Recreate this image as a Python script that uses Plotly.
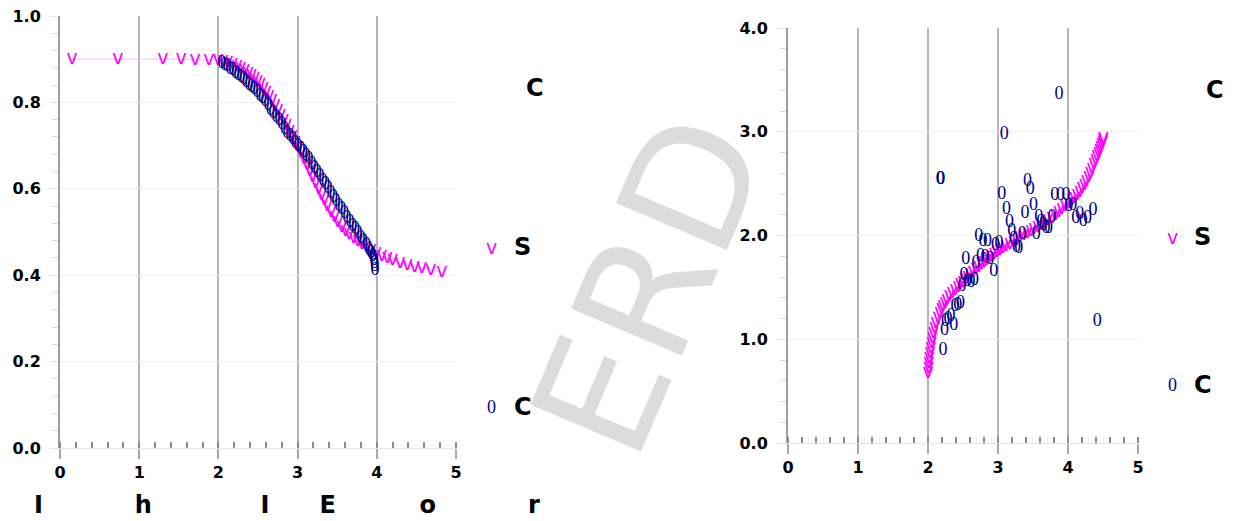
import plotly.graph_objects as go

# ---------------- data ----------------
# left panel: fitted curve ("v") and observed points ("0")
left_fit_x = [0.152, 0.732, 1.30, 1.528, 1.705, 1.881, 1.995, 2.064, 2.121, 2.181, 2.235, 2.285,
              2.332, 2.379, 2.419, 2.456, 2.494, 2.530, 2.567, 2.601, 2.639, 2.677, 2.715, 2.750,
              2.787, 2.823, 2.860, 2.898, 2.934, 2.971, 3.005, 3.043, 3.081, 3.119, 3.154, 3.191,
              3.227, 3.264, 3.302, 3.338, 3.375, 3.422, 3.466, 3.510, 3.558, 3.605, 3.649, 3.706,
              3.760, 3.813, 3.870, 3.927, 3.995, 4.063, 4.133, 4.201, 4.293, 4.385, 4.476, 4.568,
              4.684, 4.821]
left_fit_y = [0.900, 0.900, 0.900, 0.900, 0.898, 0.898, 0.898, 0.896, 0.892, 0.889, 0.884, 0.880,
              0.874, 0.868, 0.862, 0.856, 0.850, 0.841, 0.833, 0.824, 0.815, 0.804, 0.794, 0.782,
              0.771, 0.759, 0.747, 0.734, 0.721, 0.708, 0.696, 0.682, 0.668, 0.654, 0.640, 0.626,
              0.612, 0.598, 0.586, 0.573, 0.560, 0.546, 0.534, 0.522, 0.512, 0.502, 0.494, 0.485,
              0.478, 0.471, 0.464, 0.458, 0.451, 0.444, 0.439, 0.434, 0.428, 0.424, 0.419, 0.416,
              0.412, 0.407]
left_obs_x = [2.043, 2.077, 2.109, 2.146, 2.181, 2.215, 2.247, 2.285, 2.318, 2.352, 2.386, 2.419,
              2.449, 2.487, 2.525, 2.557, 2.588, 2.626, 2.658, 2.689, 2.727, 2.765, 2.801, 2.835,
              2.866, 2.904, 2.938, 2.971, 3.005, 3.043, 3.076, 3.110, 3.144, 3.182, 3.213, 3.249,
              3.283, 3.321, 3.352, 3.384, 3.422, 3.453, 3.485, 3.523, 3.558, 3.592, 3.624, 3.662,
              3.696, 3.731, 3.763, 3.801, 3.833, 3.870, 3.902, 3.927, 3.948, 3.965, 3.971, 3.975,
              3.977]
left_obs_y = [0.889, 0.885, 0.882, 0.877, 0.873, 0.868, 0.863, 0.858, 0.852, 0.846, 0.840, 0.834,
              0.829, 0.822, 0.814, 0.808, 0.801, 0.792, 0.782, 0.775, 0.766, 0.757, 0.748, 0.738,
              0.729, 0.721, 0.713, 0.705, 0.697, 0.690, 0.683, 0.675, 0.667, 0.657, 0.648, 0.638,
              0.628, 0.618, 0.609, 0.600, 0.590, 0.580, 0.571, 0.560, 0.551, 0.542, 0.532, 0.522,
              0.513, 0.505, 0.497, 0.486, 0.477, 0.468, 0.458, 0.450, 0.443, 0.435, 0.427, 0.419,
              0.412]

# right panel: reference curve ("v") and sample points ("0")
right_ref_x = [2.003, 2.009, 2.014, 2.021, 2.029, 2.040, 2.050, 2.063, 2.077, 2.094, 2.114, 2.143,
               2.171, 2.193, 2.214, 2.243, 2.271, 2.307, 2.343, 2.386, 2.429, 2.464, 2.500, 2.536,
               2.571, 2.607, 2.643, 2.686, 2.724, 2.764, 2.800, 2.836, 2.871, 2.907, 2.943, 2.986,
               3.024, 3.071, 3.114, 3.171, 3.223, 3.271, 3.314, 3.371, 3.421, 3.471, 3.514, 3.571,
               3.621, 3.671, 3.714, 3.771, 3.820, 3.867, 3.914, 3.964, 4.014, 4.057, 4.093, 4.129,
               4.169, 4.200, 4.236, 4.264, 4.293, 4.319, 4.343, 4.371, 4.393, 4.414, 4.436, 4.453,
               4.467, 4.481, 4.493, 4.500, 4.507]
right_ref_y = [0.675, 0.723, 0.771, 0.819, 0.867, 0.916, 0.964, 1.012, 1.060, 1.108, 1.157, 1.205,
               1.253, 1.287, 1.320, 1.349, 1.378, 1.412, 1.446, 1.475, 1.504, 1.528, 1.552, 1.576,
               1.600, 1.624, 1.648, 1.672, 1.696, 1.719, 1.740, 1.762, 1.783, 1.802, 1.822, 1.841,
               1.860, 1.880, 1.899, 1.918, 1.937, 1.959, 1.981, 2.002, 2.024, 2.043, 2.063, 2.082,
               2.101, 2.120, 2.145, 2.169, 2.198, 2.224, 2.251, 2.281, 2.313, 2.337, 2.361, 2.390,
               2.419, 2.453, 2.487, 2.525, 2.564, 2.602, 2.641, 2.684, 2.728, 2.761, 2.795, 2.824,
               2.853, 2.877, 2.901, 2.920, 2.940]
right_obs_x = [2.177, 2.177, 2.177, 3.870, 3.089, 3.053, 3.123, 3.163, 3.197, 3.223, 3.263, 3.297,
               3.347, 3.386, 3.421, 3.461, 3.506, 3.546, 3.581, 3.611, 3.646, 3.686, 3.720, 3.770,
               3.810, 3.894, 3.970, 4.009, 4.069, 4.109, 4.169, 4.219, 4.279, 4.357, 4.417, 2.724,
               2.786, 2.850, 2.964, 3.014, 2.541, 2.686, 2.750, 2.814, 2.886, 2.939, 2.514, 2.566,
               2.614, 2.666, 2.486, 2.466, 2.426, 2.386, 2.327, 2.286, 2.251, 2.367, 2.237, 2.213]
right_obs_y = [2.535, 2.535, 2.535, 3.361, 2.978, 2.397, 2.246, 2.123, 2.037, 1.963, 1.886, 1.877,
               2.012, 2.214, 2.525, 2.439, 2.294, 2.012, 2.175, 2.123, 2.092, 2.069, 2.069, 2.175,
               2.390, 2.390, 2.390, 2.278, 2.294, 2.166, 2.198, 2.133, 2.166, 2.239, 1.169, 1.988,
               1.940, 1.940, 1.908, 1.925, 1.764, 1.732, 1.802, 1.790, 1.771, 1.651, 1.619, 1.555,
               1.545, 1.571, 1.513, 1.347, 1.330, 1.320, 1.224, 1.186, 1.169, 1.137, 1.080, 0.896]

# ticks and texts
left_xticks = [0, 1, 2, 3, 4, 5]
left_xlabels = ["0", "1", "2", "3", "4", "5"]
left_yticks = [0, 0.2, 0.4, 0.6, 0.8, 1.0]
left_ylabels = ["0.0", "0.2", "0.4", "0.6", "0.8", "1.0"]
right_xticks = [0, 1, 2, 3, 4, 5]
right_xlabels = ["0", "1", "2", "3", "4", "5"]
right_yticks = [0, 1, 2, 3, 4]
right_ylabels = ["0.0", "1.0", "2.0", "3.0", "4.0"]
glyph_fit = "v"
glyph_obs = "0"
legend_title = "C"
legend_labels = ["S", "C"]
NB = "\u00a0"
left_xtitle = "I" + NB * 11 + "h" + NB * 13 + "I" + NB * 6 + "E" + NB * 10 + "o" + NB * 11 + "r"
watermark = "ERD"

# ---------------- styles ----------------
MAGENTA = "#ff00ff"
NAVY = "#000080"
GLYPH_V = dict(color=MAGENTA, size=19, family="DejaVu Sans")
GLYPH_O = dict(color=NAVY, size=18, family="Liberation Serif")
TICKFONT = dict(family="DejaVu Sans", size=16, color="black", weight="bold")
BIGFONT = dict(family="DejaVu Sans", size=24, color="black", weight="bold")

fig = go.Figure()

fig.add_trace(go.Scatter(x=left_fit_x, y=left_fit_y, mode="lines+text",
                         text=[glyph_fit] * len(left_fit_x), textposition="middle center",
                         textfont=GLYPH_V, line=dict(color="#ffb8ff", width=1),
                         xaxis="x", yaxis="y", cliponaxis=False, hoverinfo="skip"))
fig.add_trace(go.Scatter(x=left_obs_x, y=left_obs_y, mode="text",
                         text=[glyph_obs] * len(left_obs_x), textposition="middle center",
                         textfont=GLYPH_O, xaxis="x", yaxis="y", cliponaxis=False, hoverinfo="skip"))
fig.add_trace(go.Scatter(x=right_ref_x, y=right_ref_y, mode="lines+text",
                         text=[glyph_fit] * len(right_ref_x), textposition="middle center",
                         textfont=GLYPH_V, line=dict(color="#ffb8ff", width=1),
                         xaxis="x2", yaxis="y2", cliponaxis=False, hoverinfo="skip"))
fig.add_trace(go.Scatter(x=right_obs_x, y=right_obs_y, mode="text",
                         text=[glyph_obs] * len(right_obs_x), textposition="middle center",
                         textfont=GLYPH_O, xaxis="x2", yaxis="y2", cliponaxis=False, hoverinfo="skip"))

W, H = 1248, 521
OFF = 8  # the page body adds an 8px margin around the figure


def px(xs):
    return (xs - OFF) / W


def py(ys):
    return 1 - (ys - OFF) / H


def xaxis_style(domain, rng, tickvals, ticktext, anchor):
    return dict(domain=domain, range=rng, anchor=anchor, tickvals=tickvals, ticktext=ticktext,
                automargin=False, ticklabeloverflow="allow",
                showgrid=True, gridcolor="#b5b5b5", gridwidth=2, zeroline=False,
                showline=True, linecolor="#e4e4e4", linewidth=1,
                ticks="outside", ticklen=10, tickwidth=2, tickcolor="#a8a8a8",
                tickfont=TICKFONT,
                minor=dict(ticks="inside", ticklen=6, tickwidth=1.5, tickcolor="#8c8c8c",
                           dtick=0.2, showgrid=False))


def yaxis_style(domain, rng, tickvals, ticktext, anchor, minor_dtick, standoff):
    return dict(domain=domain, range=rng, anchor=anchor, tickvals=tickvals, ticktext=ticktext,
                automargin=False, ticklabeloverflow="allow",
                showgrid=True, gridcolor="#efefef", gridwidth=1, zeroline=False,
                showline=True, linecolor="#9c9c9c", linewidth=2,
                ticks="outside", ticklen=8, tickwidth=1, tickcolor="#e2e2e2",
                tickfont=TICKFONT, ticklabelstandoff=standoff,
                minor=dict(ticks="outside", ticklen=6, tickwidth=1, tickcolor="#dadada",
                           dtick=minor_dtick, showgrid=False))


fig.update_layout(
    width=W, height=H, margin=dict(l=0, r=0, t=0, b=0, autoexpand=False),
    paper_bgcolor="white", plot_bgcolor="white", showlegend=False, hovermode=False,
    xaxis=xaxis_style([px(60), px(456)], [0, 5], left_xticks, left_xlabels, "y"),
    yaxis=yaxis_style([py(448), py(16)], [0, 1], left_yticks, left_ylabels, "x", 0.04, 6),
    xaxis2=xaxis_style([px(788), px(1138)], [0, 5], right_xticks, right_xlabels, "y2"),
    yaxis2=yaxis_style([py(443), py(28)], [0, 4], right_yticks, right_ylabels, "x2", 0.2, 7),
)

ann = []
# watermark (light grey, diagonal)
ann.append(dict(text=watermark, x=px(650), y=py(285), xref="paper", yref="paper",
                xanchor="center", yanchor="middle", showarrow=False, textangle=-67,
                font=dict(family="DejaVu Sans", size=165, color="#dcdcdc")))
# x-axis title of the left panel
ann.append(dict(text=left_xtitle, x=px(287), y=py(505), xref="paper", yref="paper",
                xanchor="center", yanchor="middle", showarrow=False, font=BIGFONT))
# hand-placed legends for each panel
for (gx, tx, y_title, y_fit, y_obs) in [(491, 512, 88, 247, 407), (1172, 1192, 90, 237, 385)]:
    ann.append(dict(text=legend_title, x=px(tx + 12), y=py(y_title), xref="paper",
                    yref="paper", showarrow=False, xanchor="left", yanchor="middle",
                    font=BIGFONT))
    ann.append(dict(text=glyph_fit, x=px(gx), y=py(y_fit), xref="paper", yref="paper",
                    xanchor="center", yanchor="middle", showarrow=False, font=GLYPH_V))
    ann.append(dict(text=legend_labels[0], x=px(tx), y=py(y_fit), xref="paper",
                    yref="paper", showarrow=False, xanchor="left", yanchor="middle",
                    font=BIGFONT))
    ann.append(dict(text=glyph_obs, x=px(gx), y=py(y_obs), xref="paper", yref="paper",
                    xanchor="center", yanchor="middle", showarrow=False, font=GLYPH_O))
    ann.append(dict(text=legend_labels[1], x=px(tx), y=py(y_obs), xref="paper",
                    yref="paper", showarrow=False, xanchor="left", yanchor="middle",
                    font=BIGFONT))
fig.update_layout(annotations=ann)

fig.write_html("out.html")
